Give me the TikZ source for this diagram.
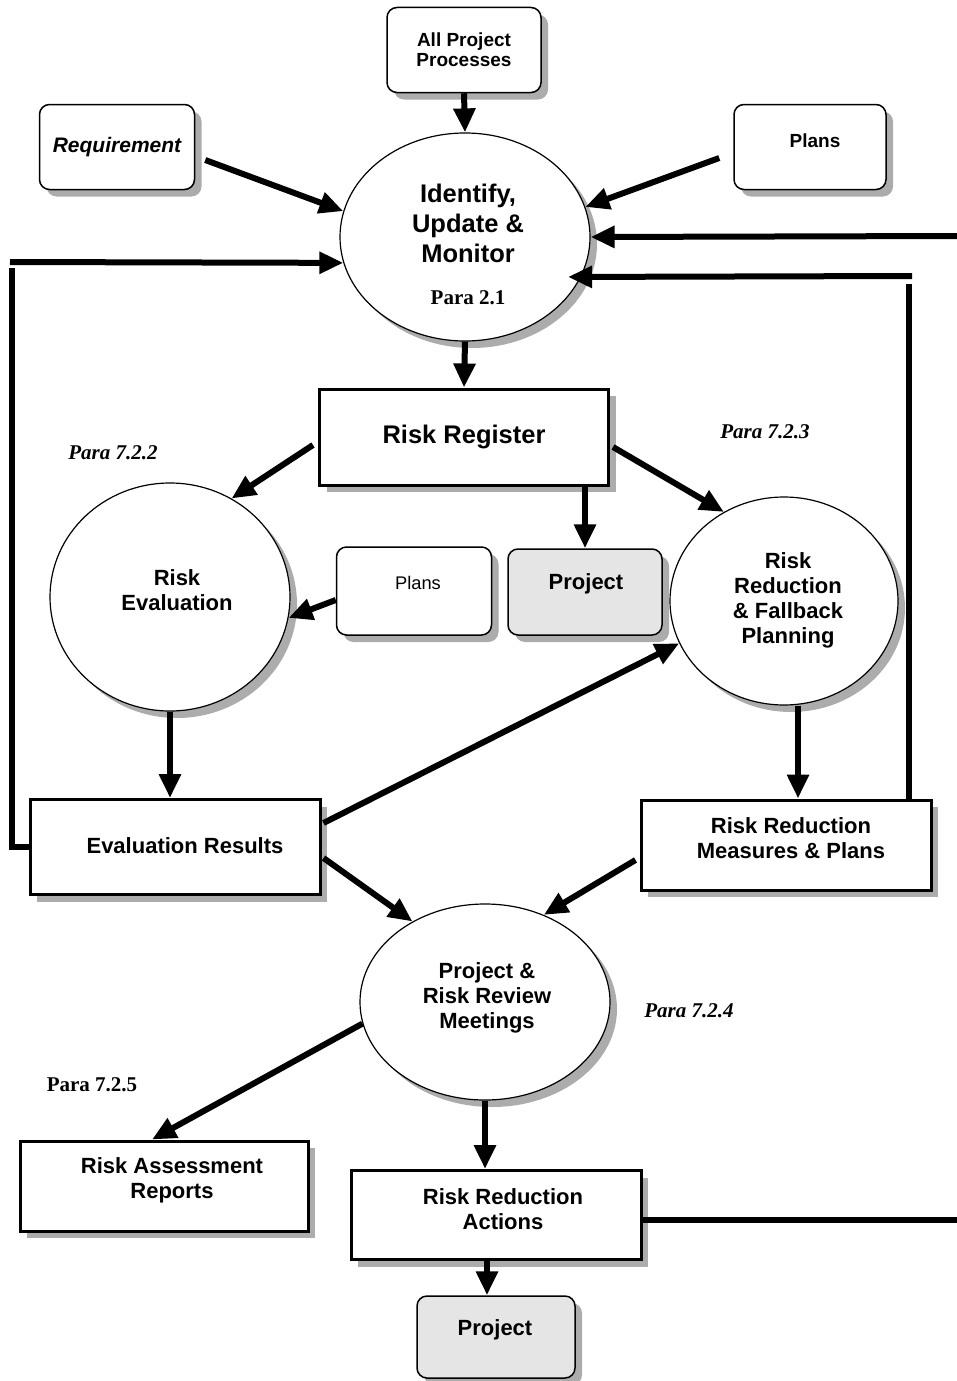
\documentclass[tikz,border=0pt]{standalone}
\usepackage{fontspec}
\setmainfont{Liberation Sans}
\newfontfamily\tms{Liberation Serif}
\usetikzlibrary{shapes.geometric,arrows.meta,shadows}
\begin{document}
\begin{tikzpicture}[x=1pt,y=-1pt,
  shad/.style={drop shadow={shadow xshift=7pt,shadow yshift=-7pt,fill=gray!65,opacity=1}},
  rbox/.style={draw,line width=1.5pt,rounded corners=10pt,fill=white,shad,inner sep=0pt},
  sbox/.style={draw,line width=3pt,fill=white,shad,inner sep=0pt},
  ell/.style={ellipse,draw,line width=1.2pt,fill=white,shad,inner sep=0pt},
  shaded/.style={fill=gray!20},
  arr/.style={line width=6pt,-{Triangle[length=24pt,width=21pt]}},
  lin/.style={line width=6pt},
  tbig/.style={font=\bfseries\fontsize{25.5}{30}\selectfont,align=center},
  tmid/.style={font=\bfseries\fontsize{22}{25}\selectfont,align=center},
  tsml/.style={font=\bfseries\fontsize{19}{20}\selectfont,align=center},
  para/.style={font=\tms\bfseries\itshape\fontsize{21}{22}\selectfont},
  paran/.style={font=\tms\bfseries\fontsize{21}{22}\selectfont}
]
\useasboundingbox (0,0) rectangle (957,1381);

% boxes
\node[rbox,minimum width=154pt,minimum height=85pt,tsml] (app) at (464,50) {All Project\\Processes};
\node[rbox,minimum width=155pt,minimum height=85pt,font=\bfseries\itshape\fontsize{21}{24}\selectfont] (req) at (117,147) {Requirement};
\node[rbox,minimum width=152pt,minimum height=85pt] (plt) at (810,147) {};
\node[tsml] (pltt) at (815,141) {Plans};

\node[ell,minimum width=250pt,minimum height=208pt] (idm) at (465,237) {};
\node[tbig] (idmt) at (468,223) {Identify,\\Update \&\\Monitor};
\node[paran] (p21) at (468,298) {Para 2.1};

\node[sbox,minimum width=289pt,minimum height=96pt,font=\bfseries\fontsize{25.5}{28}\selectfont] (rr) at (464,437) {Risk Register};

\node[ell,minimum width=240pt,minimum height=228pt] (rev) at (170,597) {};
\node[tmid] (revt) at (177,590) {Risk\\Evaluation};

\node[rbox,minimum width=155pt,minimum height=88pt] (plm) at (414,591) {};
\node[font=\fontsize{18.3}{20}\selectfont] (plmt) at (418,583) {Plans};

\node[rbox,shaded,minimum width=154pt,minimum height=86pt] (prj1) at (585,592) {};
\node[tmid] (prj1t) at (586,584) {Project};

\node[ell,minimum width=228pt,minimum height=208pt] (rrf) at (784,601) {};
\node[tmid] (rrft) at (788,600) {Risk\\Reduction\\\& Fallback\\Planning};

\node[sbox,minimum width=290pt,minimum height=95pt] (er) at (175,847) {};
\node[tmid] (ert) at (185,846) {Evaluation Results};
\node[sbox,minimum width=290pt,minimum height=90pt] (rrm) at (786,845) {};
\node[tmid] (rrmt) at (791,838) {Risk Reduction\\Measures \& Plans};

\node[ell,minimum width=250pt,minimum height=196pt] (prr) at (485,1002) {};
\node[tmid] (prrt) at (487,998) {Project \&\\Risk Review\\Meetings};

\node[sbox,minimum width=288pt,minimum height=90pt] (rar) at (164,1186) {};
\node[tmid] (rart) at (172,1180) {Risk Assessment\\Reports};
\node[sbox,minimum width=290pt,minimum height=89pt] (rra) at (496,1215) {};
\node[tmid] (rrat) at (503,1209) {Risk Reduction\\Actions};

\node[rbox,shaded,minimum width=158pt,minimum height=82pt] (prj2) at (496,1337) {};
\node[tmid] (prj2t) at (495,1330) {Project};

% para labels
\node[para] (p722) at (113,453) {Para 7.2.2};
\node[para] (p723) at (765,432) {Para 7.2.3};
\node[para] (p724) at (689,1011) {Para 7.2.4};
\node[paran] (p725) at (92,1085) {Para 7.2.5};

% free ends
\coordinate (rin) at (957,236);
\coordinate (rtop) at (912,276);
\coordinate (rv) at (909,284);
\coordinate (lv) at (12,268);
\coordinate (ltop) at (10,262);
\coordinate (rout) at (957,1220);

% connectors
\draw[arr] (app.south) -- (idm.north);
\draw[arr] ([xshift=10pt,yshift=-13pt]req.east) -- (idm.168);
\draw[arr] ([xshift=-14pt,yshift=-11pt]plt.west) -- (idm.14);
\draw[arr] (rin) -- (idm.east);
\draw[lin] (rrm.north -| rv) -- (rv);
\draw[arr] (rtop) -- ([xshift=-13pt]idm.-19);
\draw[lin] (er.west) -- (lv |- er.west) -- (lv);
\draw[arr] (ltop) -- (idm.192);
\draw[arr] (idm.south) -- (rr.north);
\draw[arr] ([xshift=-5pt,yshift=-8pt]rr.west) -- (rev.58);
\draw[arr] (rr.south -| prj1.north) -- (prj1.north);
\draw[arr] ([xshift=3pt,yshift=-10pt]rr.east) -- (rrf.124);
\draw[arr] ([yshift=-9pt]plm.west) -- (rev.-10);
\draw[arr] (rev.south) -- (rev.south |- er.north);
\draw[arr] ([xshift=14pt]rrf.south) -- ([xshift=14pt]rrf.south |- rrm.north);
\draw[arr] ([xshift=2pt,yshift=24pt]er.east) -- (rrf.202);
\draw[arr] ([xshift=2pt,yshift=-11pt]er.east) -- (prr.132);
\draw[arr] ([xshift=-4pt,yshift=-15pt]rrm.west) -- (prr.56);
\draw[arr] (prr.190) -- ([xshift=-12pt]rar.north);
\draw[arr] (prr.south) -- (prr.south |- rra.north);
\draw[lin] (rra.east |- rout) -- (rout);
\draw[arr] ([xshift=-9pt]rra.south) -- ([xshift=-9pt]prj2.north);
\end{tikzpicture}
\end{document}
